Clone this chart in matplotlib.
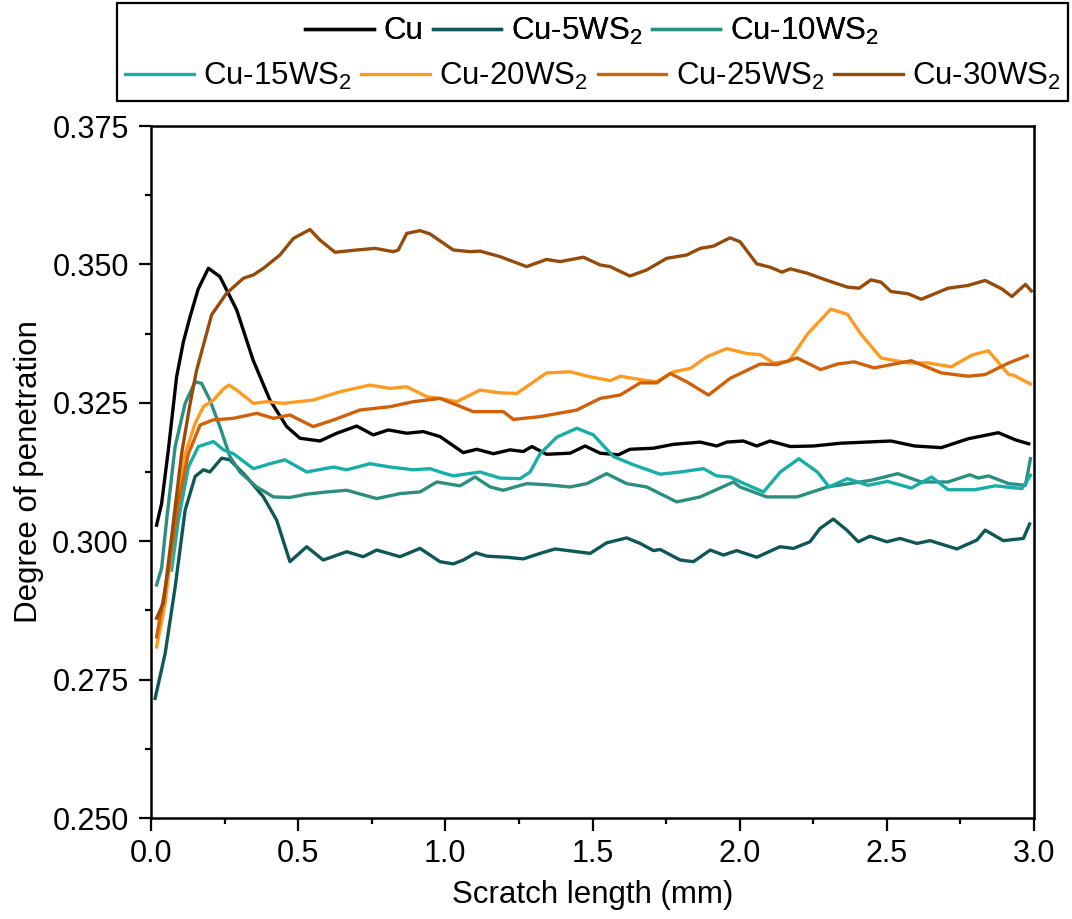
import matplotlib.pyplot as plt
from matplotlib.patches import Rectangle
from matplotlib.ticker import MultipleLocator

plt.rcParams['font.family'] = ['Liberation Sans', 'DejaVu Sans']
plt.rcParams['mathtext.default'] = 'regular'

# scratch length (mm) and degree of penetration
cu_x = [0.019, 0.036, 0.059, 0.087, 0.11, 0.133, 0.16, 0.195, 0.234, 0.291, 0.347, 0.404, 0.461, 0.506,
        0.574, 0.631, 0.699, 0.755, 0.806, 0.869, 0.925, 0.982, 1.061, 1.107, 1.163, 1.22, 1.265, 1.294,
        1.344, 1.424, 1.475, 1.526, 1.588, 1.627, 1.707, 1.775, 1.866, 1.922, 1.956, 2.012, 2.058, 2.103,
        2.172, 2.252, 2.343, 2.514, 2.594, 2.685, 2.776, 2.879, 2.937, 2.982]
cu_y = [0.3029, 0.3068, 0.3165, 0.3297, 0.336, 0.3406, 0.3455, 0.3493, 0.3478, 0.3418, 0.3327, 0.3255,
        0.3207, 0.3186, 0.3181, 0.3195, 0.3208, 0.3192, 0.3201, 0.3195, 0.3198, 0.3189, 0.3160, 0.3166,
        0.3158, 0.3165, 0.3162, 0.3171, 0.3157, 0.3159, 0.3172, 0.3159, 0.3156, 0.3166, 0.3168, 0.3175,
        0.3179, 0.3172, 0.3179, 0.3181, 0.3172, 0.3181, 0.3171, 0.3172, 0.3177, 0.3181, 0.3172, 0.3169,
        0.3185, 0.3196, 0.3183, 0.3176]

ws5_x = [0.014, 0.048, 0.082, 0.116, 0.15, 0.178, 0.2, 0.24, 0.268, 0.325, 0.382, 0.427, 0.472, 0.529,
         0.585, 0.665, 0.721, 0.767, 0.846, 0.914, 0.982, 1.027, 1.061, 1.104, 1.141, 1.209, 1.265, 1.322,
         1.373, 1.447, 1.492, 1.548, 1.616, 1.662, 1.707, 1.73, 1.798, 1.843, 1.9, 1.945, 1.99, 2.058,
         2.137, 2.183, 2.239, 2.273, 2.318, 2.364, 2.403, 2.443, 2.5, 2.545, 2.602, 2.647, 2.738, 2.806,
         2.834, 2.896, 2.964, 2.985]
ws5_y = [0.2716, 0.2797, 0.2917, 0.3056, 0.3117, 0.3129, 0.3125, 0.3150, 0.3147, 0.3116, 0.3080, 0.3038,
         0.2963, 0.2990, 0.2966, 0.2981, 0.2972, 0.2984, 0.2972, 0.2987, 0.2963, 0.2959, 0.2966, 0.2979,
         0.2973, 0.2971, 0.2968, 0.2978, 0.2986, 0.2981, 0.2978, 0.2997, 0.3006, 0.2996, 0.2983, 0.2985,
         0.2966, 0.2963, 0.2984, 0.2975, 0.2983, 0.2971, 0.2990, 0.2987, 0.2999, 0.3023, 0.3040, 0.3020,
         0.2999, 0.3009, 0.2999, 0.3005, 0.2996, 0.3001, 0.2986, 0.3002, 0.3020, 0.3001, 0.3005, 0.3031]

ws10_x = [0.019, 0.036, 0.053, 0.082, 0.116, 0.15, 0.172, 0.2, 0.234, 0.268, 0.302, 0.359, 0.416, 0.472,
          0.529, 0.597, 0.665, 0.767, 0.846, 0.914, 0.971, 1.05, 1.101, 1.152, 1.197, 1.276, 1.344, 1.424,
          1.481, 1.548, 1.616, 1.684, 1.786, 1.866, 1.979, 2.001, 2.092, 2.195, 2.298, 2.446, 2.537, 2.617,
          2.708, 2.782, 2.811, 2.845, 2.914, 2.971, 2.988]
ws10_y = [0.2921, 0.2951, 0.3038, 0.3171, 0.3249, 0.3288, 0.3285, 0.3255, 0.3207, 0.3153, 0.3125, 0.3098,
          0.3080, 0.3079, 0.3085, 0.3089, 0.3092, 0.3077, 0.3086, 0.3089, 0.3107, 0.3100, 0.3116, 0.3098,
          0.3092, 0.3104, 0.3102, 0.3098, 0.3104, 0.3122, 0.3104, 0.3098, 0.3071, 0.3080, 0.3107, 0.3098,
          0.3080, 0.3080, 0.3098, 0.3110, 0.3122, 0.3107, 0.3107, 0.3120, 0.3114, 0.3118, 0.3104, 0.3101,
          0.3149]

ws15_x = [0.07, 0.093, 0.127, 0.161, 0.212, 0.246, 0.28, 0.348, 0.404, 0.455, 0.529, 0.62, 0.665, 0.744,
          0.812, 0.891, 0.948, 0.982, 1.027, 1.118, 1.186, 1.254, 1.288, 1.322, 1.379, 1.447, 1.503, 1.571,
          1.639, 1.73, 1.798, 1.877, 1.922, 1.967, 2.024, 2.081, 2.138, 2.201, 2.264, 2.304, 2.366, 2.435,
          2.503, 2.583, 2.652, 2.708, 2.799, 2.868, 2.959, 2.988]
ws15_y = [0.2948, 0.3038, 0.3134, 0.3171, 0.3180, 0.3165, 0.3158, 0.3131, 0.3140, 0.3147, 0.3125, 0.3134,
          0.3129, 0.3140, 0.3134, 0.3129, 0.3131, 0.3125, 0.3118, 0.3125, 0.3114, 0.3113, 0.3125, 0.3158,
          0.3188, 0.3204, 0.3192, 0.3153, 0.3138, 0.3121, 0.3125, 0.3131, 0.3118, 0.3116, 0.3102, 0.3089,
          0.3125, 0.3149, 0.3125, 0.3098, 0.3113, 0.3101, 0.3108, 0.3096, 0.3116, 0.3093, 0.3093, 0.3100,
          0.3095, 0.3119]

ws20_x = [0.019, 0.048, 0.082, 0.116, 0.15, 0.178, 0.212, 0.246, 0.265, 0.291, 0.348, 0.393, 0.45, 0.551,
          0.642, 0.744, 0.812, 0.869, 0.937, 0.982, 1.039, 1.118, 1.186, 1.243, 1.344, 1.424, 1.492, 1.56,
          1.594, 1.673, 1.718, 1.775, 1.832, 1.888, 1.956, 2.024, 2.07, 2.115, 2.167, 2.23, 2.309, 2.366,
          2.412, 2.48, 2.572, 2.64, 2.719, 2.788, 2.845, 2.914, 2.93, 2.988]
ws20_y = [0.2809, 0.2888, 0.3038, 0.3158, 0.3213, 0.3243, 0.3255, 0.3275, 0.3282, 0.3273, 0.3249, 0.3252,
          0.3249, 0.3255, 0.3270, 0.3282, 0.3276, 0.3279, 0.3261, 0.3258, 0.3252, 0.3273, 0.3268, 0.3267,
          0.3304, 0.3306, 0.3297, 0.3290, 0.3298, 0.3291, 0.3288, 0.3306, 0.3312, 0.3333, 0.3348, 0.3339,
          0.3337, 0.3322, 0.3325, 0.3374, 0.3419, 0.3410, 0.3374, 0.3331, 0.3322, 0.3322, 0.3315, 0.3336,
          0.3344, 0.3301, 0.3300, 0.3284]

ws25_x = [0.019, 0.059, 0.093, 0.127, 0.167, 0.211, 0.28, 0.359, 0.416, 0.472, 0.551, 0.62, 0.71, 0.812,
          0.891, 0.982, 1.095, 1.197, 1.231, 1.322, 1.447, 1.526, 1.594, 1.662, 1.718, 1.764, 1.82, 1.894,
          1.967, 2.069, 2.126, 2.195, 2.275, 2.332, 2.389, 2.457, 2.583, 2.685, 2.776, 2.834, 2.914, 2.977]
ws25_y = [0.2827, 0.2948, 0.3068, 0.3158, 0.3210, 0.3219, 0.3222, 0.3231, 0.3222, 0.3228, 0.3207, 0.3219,
          0.3237, 0.3243, 0.3252, 0.3258, 0.3234, 0.3234, 0.3220, 0.3225, 0.3237, 0.3258, 0.3264, 0.3286,
          0.3286, 0.3303, 0.3288, 0.3264, 0.3294, 0.3320, 0.3319, 0.3331, 0.3310, 0.3320, 0.3324, 0.3313,
          0.3326, 0.3304, 0.3298, 0.3301, 0.3322, 0.3335]

ws30_x = [0.019, 0.042, 0.07, 0.104, 0.133, 0.155, 0.206, 0.257, 0.314, 0.348, 0.382, 0.438, 0.484, 0.54,
          0.574, 0.625, 0.699, 0.761, 0.823, 0.84, 0.869, 0.914, 0.948, 1.027, 1.084, 1.118, 1.186, 1.276,
          1.344, 1.39, 1.469, 1.526, 1.56, 1.627, 1.684, 1.752, 1.82, 1.866, 1.911, 1.967, 2.001, 2.058,
          2.103, 2.144, 2.172, 2.23, 2.298, 2.366, 2.406, 2.446, 2.48, 2.514, 2.572, 2.617, 2.708, 2.776,
          2.834, 2.89, 2.925, 2.971, 2.991]
ws30_y = [0.2861, 0.2888, 0.3008, 0.3158, 0.3249, 0.3309, 0.3409, 0.3448, 0.3475, 0.3481, 0.3493, 0.3517,
          0.3547, 0.3563, 0.3544, 0.3522, 0.3526, 0.3529, 0.3523, 0.3526, 0.3556, 0.3561, 0.3555, 0.3526,
          0.3523, 0.3524, 0.3514, 0.3496, 0.3509, 0.3505, 0.3513, 0.3499, 0.3496, 0.3479, 0.3490, 0.3511,
          0.3517, 0.3529, 0.3533, 0.3548, 0.3541, 0.3501, 0.3495, 0.3486, 0.3492, 0.3484, 0.3471, 0.3459,
          0.3457, 0.3472, 0.3468, 0.3451, 0.3447, 0.3437, 0.3457, 0.3462, 0.3471, 0.3456, 0.3442, 0.3464,
          0.3452]

labels = ['Cu', 'Cu-5WS$_2$', 'Cu-10WS$_2$', 'Cu-15WS$_2$', 'Cu-20WS$_2$', 'Cu-25WS$_2$', 'Cu-30WS$_2$']
colors = ['#000000', '#0f5757', '#2a8e80', '#17aea8', '#ff9a20', '#d0600a', '#964b0a']
series = [(cu_x, cu_y), (ws5_x, ws5_y), (ws10_x, ws10_y), (ws15_x, ws15_y),
          (ws20_x, ws20_y), (ws25_x, ws25_y), (ws30_x, ws30_y)]

fig = plt.figure(figsize=(10.72, 9.19), dpi=100)
ax = fig.add_axes([151/1072, 1 - 818/919, 883/1072, 692/919])

lines = []
for (x, y), c, lab in zip(series, colors, labels):
    ln, = ax.plot(x, y, color=c, lw=2.4, label=lab, solid_joinstyle='round')
    lines.append(ln)

ax.set_xlim(0, 3.0)
ax.set_ylim(0.25, 0.375)
ax.xaxis.set_major_locator(MultipleLocator(0.5))
ax.xaxis.set_minor_locator(MultipleLocator(0.25))
ax.yaxis.set_major_locator(MultipleLocator(0.025))
ax.yaxis.set_minor_locator(MultipleLocator(0.0125))
ax.xaxis.set_major_formatter(plt.FormatStrFormatter('%.1f'))
ax.yaxis.set_major_formatter(plt.FormatStrFormatter('%.3f'))

for s in ax.spines.values():
    s.set_linewidth(1.8)
ax.tick_params(which='major', direction='out', length=9, width=1.6, labelsize=22)
ax.tick_params(which='minor', direction='out', length=4.5, width=1.6)
ax.tick_params(axis='x', which='major', pad=6)
ax.tick_params(axis='y', which='major', pad=7)

ax.set_xlabel('Scratch length (mm)', fontsize=22.5, labelpad=8)
ax.set_ylabel('Degree of penetration', fontsize=22.5, labelpad=6)

# legend box: two centred rows like the original
fig.patches.append(Rectangle((117/1072, 1 - 101/919), 951/1072, 98/919, transform=fig.transFigure,
                             fill=False, edgecolor='black', lw=1.6))
leg_kw = dict(loc='center', frameon=False, fontsize=22.5, handlelength=2.2, handletextpad=0.3,
              columnspacing=0.3, borderpad=0, borderaxespad=0)
leg1 = fig.legend(lines[:3], labels[:3], ncol=3, bbox_to_anchor=(592/1072, 1 - 31/919), **leg_kw)
fig.add_artist(leg1)
fig.legend(lines[3:], labels[3:], ncol=4, bbox_to_anchor=(593/1072, 1 - 76/919), **leg_kw)

plt.savefig('out.png', dpi=100)
